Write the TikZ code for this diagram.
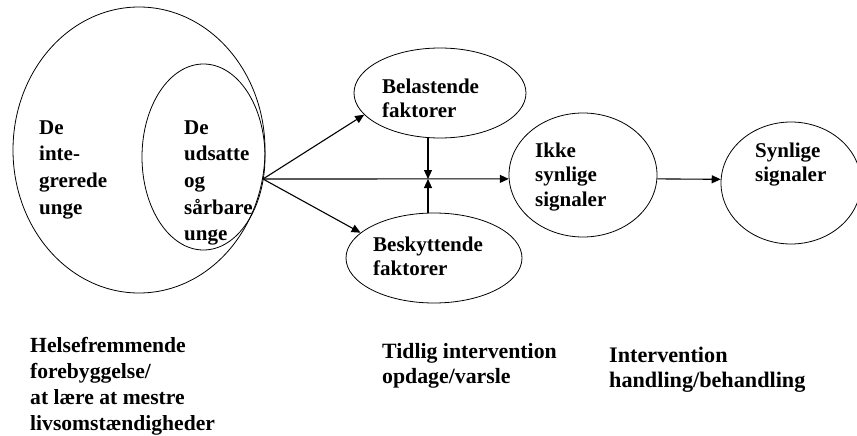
\documentclass[tikz,border=0pt]{standalone}
\usepackage{fontspec}
\setmainfont{Liberation Serif}
\usetikzlibrary{shapes.geometric,arrows.meta}
\begin{document}
\begin{tikzpicture}[x=1pt,y=-1pt,
  oval/.style={draw,ellipse,inner sep=0pt,line width=0.8pt},
  lbl/.style={anchor=base west,align=left,inner sep=0pt,font=\fontsize{21}{24.5}\bfseries\selectfont},
  lblw/.style={lbl,font=\fontsize{21}{26.7}\bfseries\selectfont},
  lblb/.style={lbl,font=\fontsize{21.8}{25}\bfseries\selectfont},
  arr/.style={line width=1.1pt,-{Triangle[length=9pt,width=8pt]}}]
\useasboundingbox (0,0) rectangle (857,436);
% ellipses
\node[oval,minimum width=252pt,minimum height=286pt] (big) at (139,150) {};
\node[oval,minimum width=123pt,minimum height=186pt] (inner) at (203.5,157) {};
\node[oval,minimum width=172pt,minimum height=90pt] (bel) at (440,93) {};
\node[oval,minimum width=176pt,minimum height=90pt] (bes) at (434,258) {};
\node[oval,minimum width=148pt,minimum height=124pt] (ikke) at (583,175) {};
\begin{scope}
\clip (0,0) rectangle (857,436);
\node[oval,minimum width=140pt,minimum height=122pt] (syn) at (791,183) {};
\end{scope}
% texts (anchored at the baseline of the last line)
\node[lblw] (t1) at (39,214.1) {De\\inte-\\grerede\\unge};
\node[lblw] (t2) at (184,240.8) {De\\udsatte\\og\\sårbare\\unge};
\node[lbl] (t3) at (382,117.5) {Belastende\\faktorer};
\node[lbl] (t4) at (373,275.5) {Beskyttende\\faktorer};
\node[lbl] (t5) at (535,206) {Ikke\\synlige\\signaler};
\node[lbl] (t6) at (755,181.5) {Synlige\\signaler};
\node[lblb,font=\fontsize{21.6}{26}\bfseries\selectfont] (t7) at (30,430) {Helsefremmende\\forebyggelse/\\at lære at mestre\\livsomstændigheder};
\node[lblb] (t8) at (382,383) {Tidlig intervention\\opdage/varsle};
\node[lblb,font=\fontsize{22.2}{25}\bfseries\selectfont] (t9) at (609,387) {Intervention\\handling/behandling};
% connectors
\coordinate (src) at (263,179);
\coordinate (mid) at (428,179);
\coordinate (belb) at (428,138);
\coordinate (best) at (428,213);
\draw[arr] (src) -- (bel.196);
\draw[arr] (src) -- (bes.161);
\draw[arr] (src) -- (ikke.183);
\draw[arr] (belb) -- (mid);
\draw[arr] (best) -- (mid);
\draw[arr] (ikke.-3) -- (syn.177);
\end{tikzpicture}
\end{document}
